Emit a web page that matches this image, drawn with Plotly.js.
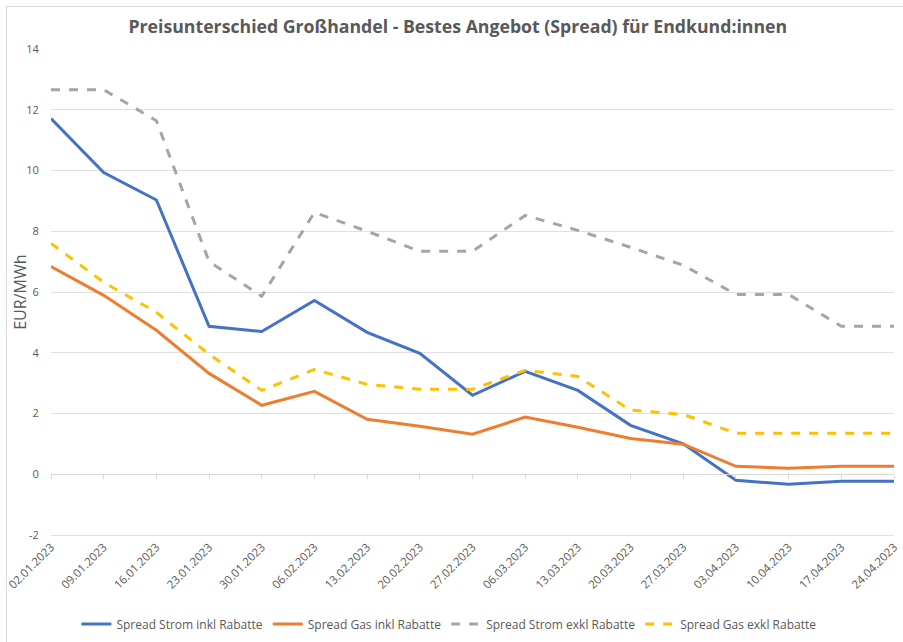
<!DOCTYPE html>
<html>
<head>
<meta charset="utf-8">
<script src="https://cdn.plot.ly/plotly-3.0.1.min.js"></script>
<style>
html,body{margin:0;padding:0;background:#fff;}
#wrap{position:relative;width:903px;height:642px;overflow:hidden;}
#chart{width:903px;height:642px;}
#frame{position:absolute;left:6px;top:6px;width:903px;height:642px;border-left:1px solid #d9d9d9;border-top:1px solid #d9d9d9;pointer-events:none;}
</style>
</head>
<body>
<div id="wrap"><div id="chart"></div><div id="frame"></div></div>
<script>
const dates = ["02.01.2023","09.01.2023","16.01.2023","23.01.2023","30.01.2023","06.02.2023","13.02.2023","20.02.2023","27.02.2023","06.03.2023","13.03.2023","20.03.2023","27.03.2023","03.04.2023","10.04.2023","17.04.2023","24.04.2023"];
const stromInkl = [11.71, 9.93, 9.03, 4.87, 4.70, 5.72, 4.67, 3.98, 2.60, 3.39, 2.76, 1.61, 1.00, -0.20, -0.33, -0.23, -0.23];
const gasInkl   = [6.84, 5.89, 4.74, 3.32, 2.27, 2.73, 1.81, 1.58, 1.32, 1.88, 1.55, 1.18, 0.99, 0.26, 0.20, 0.26, 0.26];
const stromExkl = [12.66, 12.66, 11.64, 7.00, 5.86, 8.62, 8.00, 7.34, 7.34, 8.52, 8.03, 7.47, 6.88, 5.92, 5.92, 4.87, 4.87];
const gasExkl   = [7.60, 6.32, 5.33, 3.95, 2.76, 3.45, 2.96, 2.80, 2.80, 3.42, 3.22, 2.11, 1.97, 1.35, 1.35, 1.35, 1.35];
const seriesNames = ["Spread Strom inkl Rabatte","Spread Gas inkl Rabatte","Spread Strom exkl Rabatte","Spread Gas exkl Rabatte"];
const yTicks = [-2,0,2,4,6,8,10,12,14];
const yTitle = "EUR/MWh";

const font = "Open Sans, Liberation Sans, sans-serif";
const grey = "#595959";
const gridc = "#e0e0e0";

const traces = [
  {x: dates, y: stromInkl, name: seriesNames[0], mode: "lines", line: {color: "#4472C4", width: 3}},
  {x: dates, y: gasInkl, name: seriesNames[1], mode: "lines", line: {color: "#ED7D31", width: 3}},
  {x: dates, y: stromExkl, name: seriesNames[2], mode: "lines", line: {color: "#A5A5A5", width: 3, dash: "dash"}},
  {x: dates, y: gasExkl, name: seriesNames[3], mode: "lines", line: {color: "#FFC000", width: 3, dash: "dash"}},
  {x: dates, y: gasExkl, xaxis: "x2", mode: "lines", line: {width: 0}, showlegend: false, hoverinfo: "skip", opacity: 0}
];

const layout = {
  width: 903, height: 642,
  margin: {l: 51, r: 9, t: 49, b: 107, autoexpand: false},
  paper_bgcolor: "#fff", plot_bgcolor: "#fff",
  font: {family: font, color: grey, size: 12},
  title: {text: "<b>Preisunterschied Großhandel - Bestes Angebot (Spread) für Endkund:innen</b>",
          font: {family: font, size: 17.7, color: grey}, x: 0.507, xanchor: "center", y: 0.958, yanchor: "middle"},
  showlegend: true,
  legend: {orientation: "h", x: 0.472, xanchor: "center", y: -0.183, yanchor: "middle",
           font: {family: font, size: 12, color: grey}, traceorder: "normal"},
  annotations: [{text: yTitle, textangle: -90, xref: "paper", yref: "paper", x: -0.037, y: 0.5,
                 xanchor: "center", yanchor: "middle", showarrow: false,
                 font: {family: font, size: 16, color: grey}}],
  xaxis: {type: "category", range: [0, 16], showgrid: false, gridcolor: "rgba(0,0,0,0)", zeroline: false,
          showline: true, linecolor: gridc, automargin: false, ticks: "", tickangle: -45,
          tickfont: {family: font, size: 11.5, color: grey}, fixedrange: true},
  xaxis2: {type: "category", overlaying: "x", anchor: "free", position: 0.125, range: [0, 16], automargin: false,
           showgrid: false, gridcolor: "rgba(0,0,0,0)", zeroline: false, showline: true, linecolor: "#d9d9d9", linewidth: 1,
           ticks: "outside", ticklen: 4, tickcolor: "#d9d9d9", showticklabels: false, side: "bottom"},
  yaxis: {range: [-2, 14], tickvals: yTicks, ticktext: yTicks.map(String), showgrid: true, gridcolor: gridc,
          gridwidth: 1, zeroline: false, showline: false, ticks: "outside", ticklen: 9, tickcolor: "rgba(0,0,0,0)",
          automargin: false, tickfont: {family: font, size: 11, color: grey}}
};

Plotly.newPlot("chart", traces, layout, {displayModeBar: false, staticPlot: true});
</script>
</body>
</html>
